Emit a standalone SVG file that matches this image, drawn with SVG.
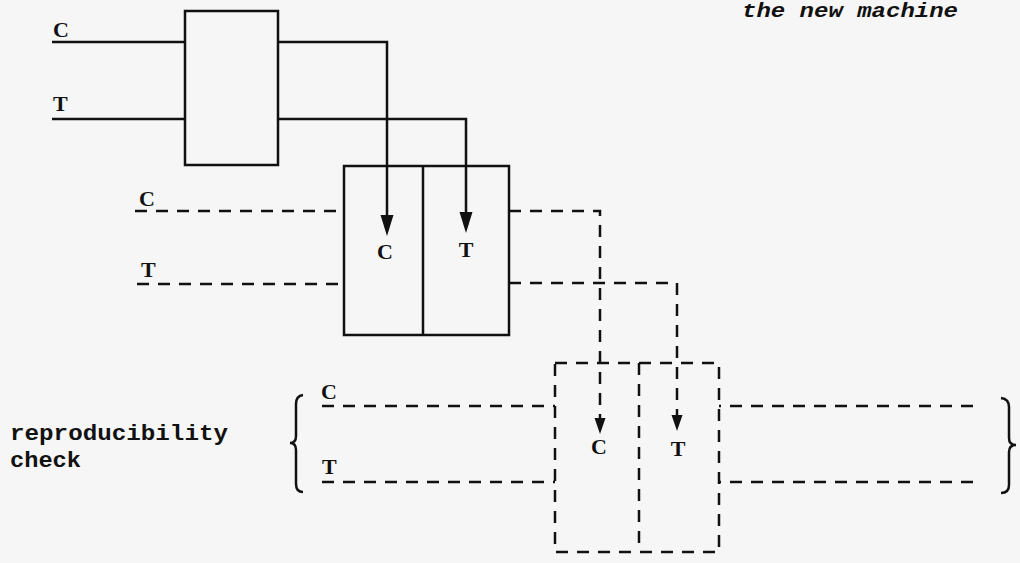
<svg xmlns="http://www.w3.org/2000/svg" width="1020" height="563" viewBox="0 0 1020 563">
<style>
.ln{fill:none;stroke:#111;stroke-width:2.5;stroke-linecap:butt;stroke-linejoin:miter}
.ds{fill:none;stroke:#111;stroke-width:2.5;stroke-dasharray:12 9}
.ah{fill:#111;stroke:none}
.lb{font-family:"Liberation Serif","Times New Roman",serif;font-weight:bold;font-size:22px;fill:#111}
.tx{font-family:"Liberation Mono","Courier New",monospace;font-weight:bold;font-size:22px;fill:#111}
.hd{font-family:"Liberation Mono","Courier New",monospace;font-weight:bold;font-style:italic;font-size:20px;fill:#111}
</style>
<rect x="0" y="0" width="1020" height="563" fill="#f6f6f6"/>

<text class="hd" x="742" y="17" textLength="216" lengthAdjust="spacingAndGlyphs">the new machine</text>

<g id="connectors">
  <path class="ln" d="M52 42 H185"/>
  <path class="ln" d="M52 119 H185"/>
  <path class="ln" d="M278 42 H387 V222"/>
  <path class="ln" d="M278 119 H466 V219"/>
  <polygon class="ah" points="380.5,215 393.5,215 387,236"/>
  <polygon class="ah" points="459.5,212 472.5,212 466,233"/>
  <path class="ds" d="M135 211 H344"/>
  <path class="ds" d="M137 284 H344"/>
  <path class="ds" d="M509 211 H600 V420"/>
  <path class="ds" d="M509 283 H677 V417"/>
  <polygon class="ah" points="594.5,418 605.5,418 600,434"/>
  <polygon class="ah" points="671.5,415 682.5,415 677,431"/>
  <path class="ds" d="M322 406 H555"/>
  <path class="ds" d="M322 482 H555"/>
  <path class="ds" d="M973 406 H719"/>
  <path class="ds" d="M973 482 H719"/>
</g>

<g id="box1">
  <rect class="ln" x="185" y="11" width="93" height="154"/>
  <text class="lb" x="53" y="37">C</text>
  <text class="lb" x="53" y="111">T</text>
</g>

<g id="box2">
  <rect class="ln" x="344" y="166" width="165" height="169"/>
  <path class="ln" d="M423 166 V335"/>
  <text class="lb" x="139" y="206">C</text>
  <text class="lb" x="141" y="277">T</text>
  <text class="lb" x="385" y="259" text-anchor="middle">C</text>
  <text class="lb" x="466" y="257" text-anchor="middle">T</text>
</g>

<g id="box3">
  <rect class="ds" x="555" y="363" width="164" height="189"/>
  <path class="ds" d="M639 363 V552"/>
  <text class="lb" x="321" y="399">C</text>
  <text class="lb" x="322" y="474">T</text>
  <text class="lb" x="599" y="454" text-anchor="middle">C</text>
  <text class="lb" x="678" y="456" text-anchor="middle">T</text>
</g>

<g id="check">
  <text class="tx" x="10" y="440" textLength="218" lengthAdjust="spacingAndGlyphs">reproducibility</text>
  <text class="tx" x="10" y="467" textLength="71" lengthAdjust="spacingAndGlyphs">check</text>
  <path class="ln" d="M303 395 Q296 396 296 404 V436 Q296 443 290 443 Q296 443 296 450 V484 Q296 492 303 492"/>
  <path class="ln" d="M1001 398 Q1009 399 1009 407 V438 Q1009 445 1016 445 Q1009 445 1009 452 V485 Q1009 493 1001 493"/>
</g>
</svg>
